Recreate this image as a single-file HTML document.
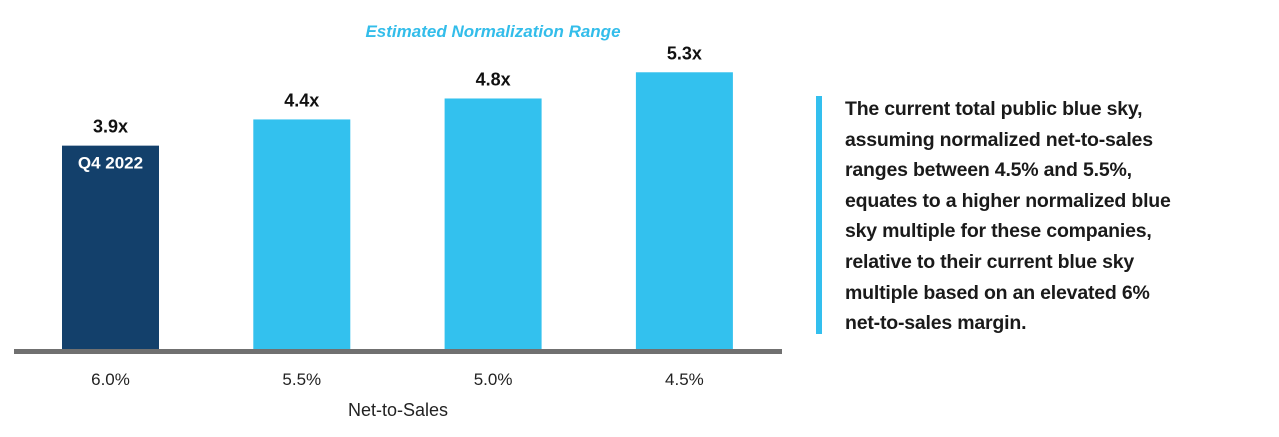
<!DOCTYPE html>
<html><head><meta charset="utf-8"><style>
body{margin:0;width:1279px;height:437px;background:#fff;overflow:hidden;font-family:"Liberation Sans",sans-serif;}
svg{position:absolute;left:0;top:0}
#note{position:absolute;left:845px;top:94px;width:430px;font-weight:bold;font-size:19.5px;line-height:30.6px;color:#1a1a1a;white-space:nowrap;letter-spacing:-0.2px}
#notebar{position:absolute;left:816px;top:96px;width:6px;height:238px;background:#33bfee}
</style></head><body>
<svg width="1279" height="437">
<text x="493" y="37" text-anchor="middle" font-size="17" font-weight="bold" font-style="italic" fill="#33bdea">Estimated Normalization Range</text>
<g id="bars"></g>
<rect x="14" y="349" width="768" height="5" fill="#707070"/>
<text x="398" y="416" text-anchor="middle" font-size="18" fill="#222">Net-to-Sales</text>
</svg>
<div id="notebar"></div>
<div id="note">The current total public blue sky,<br>assuming normalized net-to-sales<br>ranges between 4.5% and 5.5%,<br>equates to a higher normalized blue<br>sky multiple for these companies,<br>relative to their current blue sky<br>multiple based on an elevated 6%<br>net-to-sales margin.</div>
<script>
const categories=["6.0%","5.5%","5.0%","4.5%"];
const values=[3.9,4.4,4.8,5.3];
const valueLabels=["3.9x","4.4x","4.8x","5.3x"];
const NS="http://www.w3.org/2000/svg";
const base=350, pxPerUnit=52.4, step=191.3, x0=62, bw=97;
const y=v=>base-v*pxPerUnit;
const xb=i=>x0+i*step;
const g=document.getElementById('bars');
function mk(t,a){const e=document.createElementNS(NS,t);for(const k in a)e.setAttribute(k,a[k]);return e;}
values.forEach((v,i)=>{
 const r=mk('rect',{x:xb(i),y:y(v),width:bw,height:base-y(v),fill:i==0?'#13406b':'#33c1ee'});
 
 
 g.appendChild(r);
 const t=mk('text',{x:xb(i)+bw/2,y:y(v)-13,'text-anchor':'middle','font-size':'18','font-weight':'bold',fill:'#111'});
 t.textContent=valueLabels[i];
 
 
 g.appendChild(t);
 const c=mk('text',{x:xb(i)+bw/2,y:385,'text-anchor':'middle','font-size':'17',fill:'#222'});
 c.textContent=categories[i];
 
 
 g.appendChild(c);
 if(i==0){
  const q=mk('text',{x:xb(i)+bw/2,y:y(v)+23,'text-anchor':'middle','font-size':'17','font-weight':'bold',fill:'#fff'});
  q.textContent='Q4 2022';
  
  
  g.appendChild(q);
 }
});
</script>
</body></html>
